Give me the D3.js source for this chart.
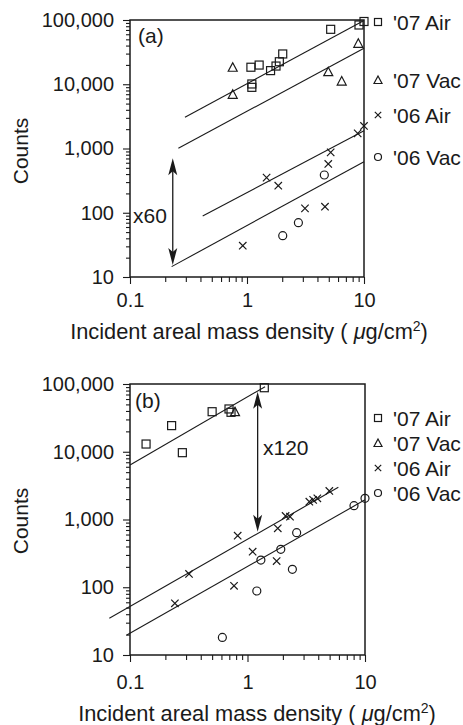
<!DOCTYPE html>
<html><head><meta charset="utf-8">
<script src="https://cdn.jsdelivr.net/npm/d3@7"></script>
<style>
body{margin:0;background:#fff}
svg{display:block}
text{font-family:"Liberation Sans",Arial,Helvetica,sans-serif;fill:#1a1a1a}
</style></head><body>
<script>
// ---------- data ----------
const seriesNames = ["'07 Air", "'07 Vac", "'06 Air", "'06 Vac"];
const seriesSymbols = ["square", "triangle", "cross", "circle"];
const xTickValues = [0.1, 1, 10];
const xTickLabels = ["0.1", "1", "10"];
const yTickValues = [10, 100, 1000, 10000, 100000];

// panel (a)
const aAir07 = [[9.06,83600],[10,94800],[5.19,71600],[2.02,29600],[1.89,22400],[1.77,19200],[1.59,16300],[1.27,19900],[1.08,18400],[1.10,10100],[1.10,8950]];
const aVac07 = [[0.755,18400],[0.755,6970],[4.95,15700],[6.45,11200],[8.94,43400]];
const aAir06 = [[1.47,352],[1.85,264],[0.92,30.7],[3.13,117],[4.64,124],[5.19,871],[4.95,574],[8.83,1720],[10,2240]];
const aVac06 = [[2.02,44],[2.75,70],[4.58,387]];
const aFits = [[[0.295,3060],[10,98000]],[[0.259,1007],[10,36300]],[[0.418,89],[10,1890]],[[0.227,14.5],[10,623]]];
const aArrow = {x:0.232, low:15.4, high:703, label:"x60"};

// panel (b)
const bAir07 = [[0.137,13000],[0.226,24300],[0.279,9690],[0.50,39000],[0.696,42800],[0.724,38200],[1.39,88100]];
const bVac07 = [[0.783,39000]];
const bAir06 = [[0.318,157],[0.241,58],[0.825,577],[0.768,105],[1.106,335],[1.81,741],[1.77,244],[2.11,1127],[2.30,1100],[3.36,1830],[3.62,1950],[3.93,2055],[4.97,2640]];
const bVac06 = [[0.611,18.2],[1.20,88],[1.30,252],[1.92,363],[2.41,184],[2.62,638],[8.06,1600],[10,2055]];
const bFits = [[[0.1,6370],[1.41,91200]],[[0.0667,34.8],[5.93,2985]],[[0.094,19.7],[10,1950]]];
const bArrow = {x:1.22, low:661, high:77000, label:"x120"};

// ---------- layout ----------
const W = 463, H = 725;
const svg = d3.select("body").append("svg").attr("width", W).attr("height", H);

const panels = [
  {tag:"(a)", series:[aAir07,aVac07,aAir06,aVac06], fits:aFits, arrow:aArrow,
   x0:130, x1:364, y0:20, y1:277, xPad:9, titleY:339, titleX:249, countsY:151,
   tagPos:[138,43], arrowLabelPos:[133,223],
   legendX:378, legendY:[22,80,115,157]},
  {tag:"(b)", series:[bAir07,bVac07,bAir06,bVac06], fits:bFits, arrow:bArrow,
   x0:130, x1:365, y0:384, y1:655, xPad:13, titleY:721, titleX:257, countsY:521,
   tagPos:[135,408], arrowLabelPos:[263,455],
   legendX:378, legendY:[418,443,468,493]}
];

function minorTicks(lo, hi) {
  const out = [];
  for (let d = lo; d < hi; d *= 10) for (let k = 2; k <= 9; k++) out.push(d * k);
  return out;
}

function marker(g, type, cx, cy, s) {
  const h = s / 2;
  if (type === "square") {
    g.append("rect").attr("x", cx - h).attr("y", cy - h).attr("width", s).attr("height", s);
  } else if (type === "triangle") {
    g.append("path").attr("d", `M${cx},${cy - h - 0.5}L${cx + h + 0.5},${cy + h}L${cx - h - 0.5},${cy + h}Z`);
  } else if (type === "cross") {
    const c = h - 0.3;
    g.append("path").attr("d", `M${cx - c},${cy - c}L${cx + c},${cy + c}M${cx - c},${cy + c}L${cx + c},${cy - c}`);
  } else {
    g.append("circle").attr("cx", cx).attr("cy", cy).attr("r", h);
  }
}

panels.forEach(p => {
  const x = d3.scaleLog().domain([0.1, 10]).range([p.x0, p.x1]);
  const y = d3.scaleLog().domain([10, 100000]).range([p.y1, p.y0]);
  const g = svg.append("g");

  // minor ticks
  g.append("g").attr("transform", `translate(${p.x0},0)`)
    .call(d3.axisLeft(y).tickValues(minorTicks(10, 100000)).tickSize(4).tickFormat(""))
    .call(a => a.select(".domain").remove());
  g.append("g").attr("transform", `translate(0,${p.y1})`)
    .call(d3.axisBottom(x).tickValues(minorTicks(0.1, 10)).tickSize(5).tickFormat(""))
    .call(a => a.select(".domain").remove());
  // major ticks
  g.append("g").attr("transform", `translate(${p.x0},0)`)
    .call(d3.axisLeft(y).tickValues(yTickValues).tickSize(7).tickPadding(9).tickFormat(d3.format(",")))
    .call(a => a.select(".domain").remove())
    .call(a => a.selectAll("text").attr("font-size", 20).attr("fill", "#1a1a1a"));
  g.append("g").attr("transform", `translate(0,${p.y1})`)
    .call(d3.axisBottom(x).tickValues(xTickValues).tickSize(7).tickPadding(p.xPad).tickFormat((d, i) => xTickLabels[i]))
    .call(a => a.select(".domain").remove())
    .call(a => a.selectAll("text").attr("font-size", 20).attr("fill", "#1a1a1a"));
  g.selectAll(".tick line").attr("stroke", "#1a1a1a").attr("stroke-width", 1.1);

  // frame
  g.append("rect").attr("x", p.x0).attr("y", p.y0).attr("width", p.x1 - p.x0).attr("height", p.y1 - p.y0)
    .attr("fill", "none").attr("stroke", "#1a1a1a").attr("stroke-width", 1.5);

  // fit lines
  const line = d3.line().x(d => x(d[0])).y(d => y(d[1]));
  g.selectAll(".fit").data(p.fits).join("path").attr("class", "fit")
    .attr("d", line).attr("fill", "none").attr("stroke", "#1a1a1a").attr("stroke-width", 1.1);

  // markers
  const mg = g.append("g").attr("fill", "none").attr("stroke", "#1a1a1a").attr("stroke-width", 1.2);
  p.series.forEach((s, i) => s.forEach(d => marker(mg, seriesSymbols[i], x(d[0]), y(d[1]), 8)));

  // arrow
  const ax = x(p.arrow.x), yt = y(p.arrow.high), yb = y(p.arrow.low);
  g.append("line").attr("x1", ax).attr("x2", ax).attr("y1", yt + 10).attr("y2", yb - 10)
    .attr("stroke", "#1a1a1a").attr("stroke-width", 1.3);
  g.append("path").attr("fill", "#1a1a1a")
    .attr("d", `M${ax},${yt}L${ax + 4.5},${yt + 17}L${ax},${yt + 13}L${ax - 4.5},${yt + 17}Z`);
  g.append("path").attr("fill", "#1a1a1a")
    .attr("d", `M${ax},${yb}L${ax + 4.5},${yb - 17}L${ax},${yb - 13}L${ax - 4.5},${yb - 17}Z`);
  g.append("text").attr("x", p.arrowLabelPos[0]).attr("y", p.arrowLabelPos[1])
    .attr("font-size", 21).text(p.arrow.label);

  // panel tag
  g.append("text").attr("x", p.tagPos[0]).attr("y", p.tagPos[1]).attr("font-size", 21).text(p.tag);

  // legend
  const lg = g.append("g");
  seriesNames.forEach((n, i) => {
    const m = lg.append("g").attr("fill", "none").attr("stroke", "#1a1a1a").attr("stroke-width", 1.2);
    marker(m, seriesSymbols[i], p.legendX, p.legendY[i], 7);
    lg.append("text").attr("x", p.legendX + 15).attr("y", p.legendY[i] + 7.5)
      .attr("font-size", 21).text(n);
  });

  // axis titles
  const t = g.append("text").attr("x", p.titleX).attr("y", p.titleY).attr("text-anchor", "middle").attr("font-size", 21.8);
  t.append("tspan").text("Incident areal mass density ( ");
  t.append("tspan").attr("font-style", "italic").text("μ");
  t.append("tspan").text("g/cm");
  t.append("tspan").attr("font-size", 14).attr("dy", -8).text("2");
  t.append("tspan").attr("dy", 8).text(")");

  g.append("text").attr("transform", `translate(28,${p.countsY}) rotate(-90)`)
    .attr("text-anchor", "middle").attr("font-size", 21).text("Counts");
});
</script>
</body></html>
